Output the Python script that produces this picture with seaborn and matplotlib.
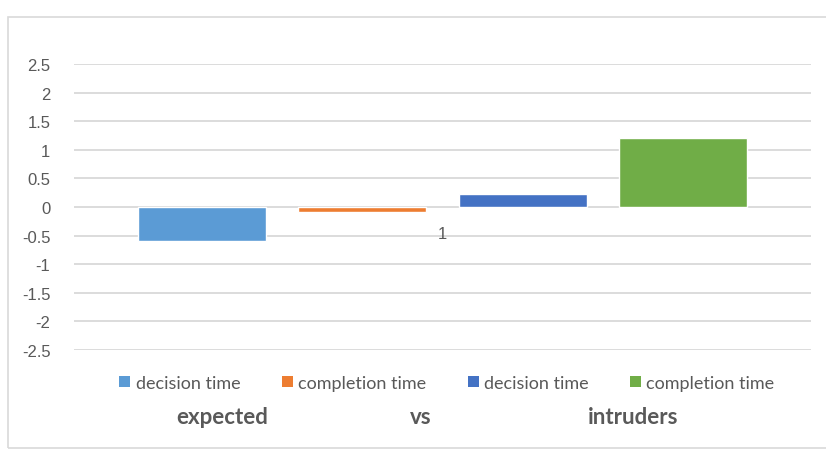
import matplotlib
matplotlib.use("Agg")
import matplotlib.pyplot as plt
from matplotlib.patches import Rectangle, Patch
import seaborn as sns
import pandas as pd

# chart values
category = ["1"]
series = ["expected decision", "expected completion", "intruders decision", "intruders completion"]
legend_labels = ["decision time", "completion time", "decision time", "completion time"]
values = [-0.6, -0.08, 0.22, 1.2]
group_labels = ["expected", "vs", "intruders"]
y_ticks = [2.5, 2, 1.5, 1, 0.5, 0, -0.5, -1, -1.5, -2, -2.5]

colors = ["#5B9BD5", "#ED7D31", "#4472C4", "#70AD47"]

df = pd.DataFrame({"cat": category * len(series), "series": series, "value": values})

sns.set_style("white")
plt.rcParams["font.family"] = ["Liberation Sans", "DejaVu Sans"]

fig = plt.figure(figsize=(8.26, 4.52), dpi=100)
ax = fig.add_axes([74 / 826, 1 - 351 / 452, (811 - 74) / 826, (351 - 65) / 452])

sns.barplot(data=df, x="cat", y="value", hue="series", hue_order=series,
            palette=colors, width=0.87, gap=0.2, ax=ax, legend=False,
            saturation=1, zorder=3)

ax.set_ylim(-2.5, 2.5)
ax.set_xlim(-0.5, 0.5)
ax.set_yticks(y_ticks)
ax.set_yticklabels([f"{t:g}" for t in y_ticks])
ax.yaxis.grid(True, color="#D9D9D9", linewidth=1.3, zorder=0)
ax.tick_params(axis="y", length=0, pad=17, labelsize=12, labelcolor="#595959")
for s in ax.spines.values():
    s.set_visible(False)

# category label sits just under the zero line, like Excel
ax.spines["bottom"].set_position(("data", 0))
ax.tick_params(axis="x", length=0, pad=14, labelsize=12, labelcolor="#595959")
ax.xaxis.set_zorder(5)
ax.set_xlabel("")
ax.set_ylabel("")

# legend along the bottom
handles = [Patch(facecolor=c, edgecolor="none") for c in colors]
fig.legend(handles, legend_labels, loc="center", bbox_to_anchor=(447 / 826, 1 - 384 / 452),
           ncol=4, frameon=False, handlelength=0.6, handleheight=0.6, handletextpad=0.3,
           columnspacing=2.3, prop={"family": "Lato", "size": 13},
           labelcolor="#595959")

# group captions under the legend
for label, xpx in zip(group_labels, [222, 421, 633]):
    fig.text(xpx / 826, 1 - 418 / 452, label, ha="center", va="center",
             fontsize=16, fontweight="bold", family="Lato", color="#595959")

# chart border
fig.patches.append(Rectangle((8 / 826, 3 / 452), 1, 1 - 21 / 452, transform=fig.transFigure,
                             fill=False, edgecolor="#D9D9D9", linewidth=1.2))

fig.savefig("out.png", dpi=100)
